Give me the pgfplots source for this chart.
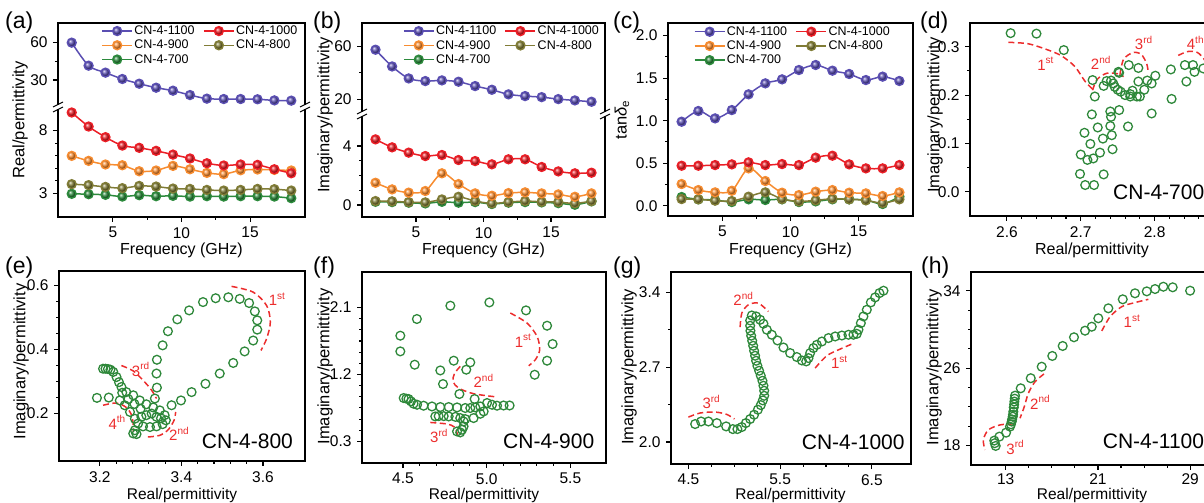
\documentclass[border=0pt]{standalone}
\usepackage{pgfplots}
\pgfplotsset{compat=1.18}
\usepackage{pgfplotstable}
\usepackage{fontspec}
\setmainfont{Liberation Sans}

\definecolor{cP}{RGB}{90,78,178}
\definecolor{cR}{RGB}{235,30,38}
\definecolor{cO}{RGB}{247,140,48}
\definecolor{cK}{RGB}{128,124,54}
\definecolor{cG}{RGB}{44,138,60}
\definecolor{cA}{RGB}{236,45,45}
\definecolor{cC}{RGB}{46,136,58}

\pgfdeclareplotmark{ballP}{\shade[ball color=cP] (0pt,0pt) circle (\pgfplotmarksize);}
\pgfdeclareplotmark{ballR}{\shade[ball color=cR] (0pt,0pt) circle (\pgfplotmarksize);}
\pgfdeclareplotmark{ballO}{\shade[ball color=cO] (0pt,0pt) circle (\pgfplotmarksize);}
\pgfdeclareplotmark{ballK}{\shade[ball color=cK] (0pt,0pt) circle (\pgfplotmarksize);}
\pgfdeclareplotmark{ballG}{\shade[ball color=cG] (0pt,0pt) circle (\pgfplotmarksize);}

\newcommand{\fs}[1]{\fontsize{#1}{#1}\selectfont}
\newcommand{\sups}[1]{\raisebox{0.42em}{\fs{10}#1}}

\tikzset{
  lP/.style={cP, line width=1.5pt, mark=ballP, mark size=4.4pt},
  lR/.style={cR, line width=1.5pt, mark=ballR, mark size=4.4pt},
  lO/.style={cO, line width=1.5pt, mark=ballO, mark size=4.4pt},
  lK/.style={cK, line width=1.5pt, mark=ballK, mark size=4.4pt},
  lG/.style={cG, line width=1.5pt, mark=ballG, mark size=4.4pt},
  arc/.style={cA, line width=1.5pt, dash pattern=on 6pt off 3.5pt},
  lab/.style={cA, font=\fs{15}, inner sep=0pt},
}

\pgfplotsset{
  base/.style={
    scale only axis, anchor=south west, clip=false,
    tick align=outside, tick pos=left,
    major tick length=5pt, minor tick length=3pt,
    every tick/.style={black, line width=1.1pt},
    axis line style={line width=1.3pt},
    tick label style={font=\fs{15.5}},
    xticklabel style={inner sep=2pt, yshift=-3pt},
    yticklabel style={inner sep=2pt, xshift=-3.3pt},
    /pgf/number format/assume math mode=true,
    scaled ticks=false,
    minor x tick num=1, minor y tick num=1,
  },
  zf/.style={#1 tick label style={/pgf/number format/.cd, fixed, fixed zerofill, precision=1}},
  leg/.style={
    legend image code/.code={\draw[mark repeat=2,mark phase=2,##1] plot coordinates {(0pt,0pt) (15pt,0pt) (30pt,0pt)};},
    legend cell align=left,
    legend columns=2,
    legend style={draw=none, fill=none, anchor=north west, font=\fs{12.5},
      inner sep=0pt, row sep=1pt, nodes={inner sep=1.5pt},
      /tikz/every even column/.append style={column sep=7pt}},
  },
  circ/.style={only marks, mark=o, mark size=4.4pt, color=cC, mark options={line width=1.3pt}},
}

\newcommand{\frameLower}{\draw[line width=1.3pt, line cap=rect] (rel axis cs:0,1) -- (rel axis cs:0,0) -- (rel axis cs:1,0) -- (rel axis cs:1,1);}
\newcommand{\frameUpper}{\draw[line width=1.3pt, line cap=rect] (rel axis cs:0,0) -- (rel axis cs:0,1) -- (rel axis cs:1,1) -- (rel axis cs:1,0);}
\newcommand{\brk}[1]{%
  \fill[white] ([shift={(-6pt,-2pt)}]rel axis cs:#1,0) rectangle ([shift={(6pt,2pt)}]rel axis cs:#1,0);
  \draw[line width=1pt] ([shift={(-5pt,-5pt)}]rel axis cs:#1,0) -- ([shift={(5pt,0pt)}]rel axis cs:#1,0);
  \draw[line width=1pt] ([shift={(-5pt,0pt)}]rel axis cs:#1,0) -- ([shift={(5pt,5pt)}]rel axis cs:#1,0);}

\pgfplotstableread{
f p r o k g
2.00 60.0 9.44 5.98 3.72 2.95
3.23 41.5 8.32 5.58 3.64 2.92
4.46 35.9 7.47 5.29 3.50 2.87
5.69 30.8 6.80 5.23 3.40 2.73
6.92 27.0 6.62 4.75 3.58 2.84
8.15 23.8 6.38 4.81 3.53 2.76
9.38 21.4 6.08 5.18 3.37 2.79
10.62 17.9 5.77 4.91 3.34 2.73
11.85 15.0 5.39 4.62 3.26 2.76
13.08 14.7 5.21 4.52 3.21 2.73
14.31 14.7 5.29 4.83 3.26 2.76
15.54 14.5 5.26 4.89 3.34 2.76
16.77 13.6 4.91 4.86 3.32 2.73
18.00 13.4 4.59 4.81 3.21 2.60
}\tabA

\pgfplotstableread{
f p r o k g
2.00 57.5 4.45 1.51 0.27 0.22
3.23 44.8 3.91 1.06 0.25 0.20
4.46 35.7 3.55 0.84 0.20 0.16
5.69 33.7 3.32 0.95 0.18 0.11
6.92 34.2 3.39 2.15 0.38 0.22
8.15 33.2 3.05 1.42 0.56 0.16
9.38 29.9 2.98 0.79 0.27 0.20
10.62 27.1 2.76 0.63 0.11 0.07
11.85 23.6 3.10 0.81 0.20 0.16
13.08 22.3 3.10 0.86 0.27 0.20
14.31 21.5 2.58 0.79 0.22 0.18
15.54 20.0 2.28 0.72 0.20 0.13
16.77 19.0 2.15 0.56 0.11 0.02
18.00 18.0 2.19 0.79 0.27 0.25
}\tabB

\pgfplotstableread{
f p r o k g
2.00 0.988 0.470 0.255 0.078 0.102
3.23 1.114 0.470 0.184 0.075 0.075
4.46 1.027 0.478 0.157 0.059 0.067
5.69 1.125 0.486 0.176 0.055 0.043
6.92 1.310 0.510 0.439 0.106 0.075
8.15 1.439 0.478 0.290 0.157 0.067
9.38 1.486 0.490 0.153 0.078 0.075
10.62 1.596 0.478 0.125 0.051 0.043
11.85 1.655 0.565 0.165 0.063 0.051
13.08 1.588 0.588 0.184 0.082 0.075
14.31 1.549 0.486 0.153 0.075 0.075
15.54 1.478 0.439 0.145 0.063 0.067
16.77 1.518 0.439 0.114 0.031 0.020
18.00 1.467 0.478 0.157 0.075 0.106
}\tabC

\begin{document}
\begin{tikzpicture}
\useasboundingbox (0pt,0pt) rectangle (1204pt,503pt);

% ---------------- (a) lower
\begin{axis}[base, at={(58pt,286pt)}, width=247pt, height=110pt,
  xmin=1, xmax=19, ymin=1.1, ymax=9.88, xtick={5,10,15}, ytick={3,8},
  minor y tick num=4, axis line style={draw=none}]
\addplot[lG, smooth, forget plot] table[x=f,y=g]{\tabA};
\addplot[lK, smooth, forget plot] table[x=f,y=k]{\tabA};
\addplot[lO, smooth, forget plot] table[x=f,y=o]{\tabA};
\addplot[lR, smooth, forget plot] table[x=f,y=r]{\tabA};
\frameLower
\end{axis}
% ---------------- (a) upper
\begin{axis}[base, at={(58pt,396pt)}, width=247pt, height=84pt,
  xmin=1, xmax=19, ymin=8.3, ymax=75.8, xtick=\empty, ytick={30,60},
  axis line style={draw=none}, leg, legend style={at={(rel axis cs:0.175,0.985)}}]
\addlegendimage{lP}\addlegendentry{CN-4-1100}
\addlegendimage{lR}\addlegendentry{CN-4-1000}
\addlegendimage{lO}\addlegendentry{CN-4-900}
\addlegendimage{lK}\addlegendentry{CN-4-800}
\addlegendimage{lG}\addlegendentry{CN-4-700}
\addplot[lP, smooth, forget plot] table[x=f,y=p]{\tabA};
\frameUpper
\brk{0}\brk{1}
\end{axis}

% ---------------- (b) lower
\begin{axis}[base, at={(362pt,286pt)}, width=243pt, height=103pt,
  xmin=1, xmax=19, ymin=-0.81, ymax=6.17, xtick={5,10,15}, ytick={0,4},
  minor y tick num=3, axis line style={draw=none}]
\addplot[lG, smooth, forget plot] table[x=f,y=g]{\tabB};
\addplot[lK, smooth, forget plot] table[x=f,y=k]{\tabB};
\addplot[lO, smooth, forget plot] table[x=f,y=o]{\tabB};
\addplot[lR, smooth, forget plot] table[x=f,y=r]{\tabB};
\frameLower
\end{axis}
% ---------------- (b) upper
\begin{axis}[base, at={(362pt,389pt)}, width=243pt, height=91pt,
  xmin=1, xmax=19, ymin=8.7, ymax=77.8, xtick=\empty, ytick={20,60},
  axis line style={draw=none}, leg, legend style={at={(rel axis cs:0.168,0.985)}}]
\addlegendimage{lP}\addlegendentry{CN-4-1100}
\addlegendimage{lR}\addlegendentry{CN-4-1000}
\addlegendimage{lO}\addlegendentry{CN-4-900}
\addlegendimage{lK}\addlegendentry{CN-4-800}
\addlegendimage{lG}\addlegendentry{CN-4-700}
\addplot[lP, smooth, forget plot] table[x=f,y=p]{\tabB};
\frameUpper
\brk{0}\brk{1}
\end{axis}

% ---------------- (c)
\begin{axis}[base, at={(668pt,287pt)}, width=245pt, height=193pt,
  xmin=1, xmax=19, ymin=-0.121, ymax=2.149, xtick={5,10,15},
  ytick={0,0.5,1,1.5,2}, zf=y,
  leg, legend style={at={(rel axis cs:0.105,0.99)}}]
\addlegendimage{lP}\addlegendentry{CN-4-1100}
\addlegendimage{lR}\addlegendentry{CN-4-1000}
\addlegendimage{lO}\addlegendentry{CN-4-900}
\addlegendimage{lK}\addlegendentry{CN-4-800}
\addlegendimage{lG}\addlegendentry{CN-4-700}
\addplot[lG, smooth, forget plot] table[x=f,y=g]{\tabC};
\addplot[lK, smooth, forget plot] table[x=f,y=k]{\tabC};
\addplot[lO, smooth, forget plot] table[x=f,y=o]{\tabC};
\addplot[lR, smooth, forget plot] table[x=f,y=r]{\tabC};
\addplot[lP, smooth, forget plot] table[x=f,y=p]{\tabC};
\end{axis}

% ---------------- (d)
\begin{axis}[base, at={(970pt,287pt)}, width=254pt, height=193pt,
  xmin=2.55, xmax=2.894, ymin=-0.050, ymax=0.349,
  xtick={2.6,2.7,2.8,2.9}, ytick={0,0.1,0.2,0.3}, zf=y, minor x tick num=4]
\addplot[circ] table {
2.605 0.328
2.640 0.327
2.677 0.293
2.716 0.231
2.719 0.197
2.731 0.219
2.735 0.229
2.741 0.230
2.744 0.224
2.746 0.217
2.750 0.211
2.754 0.207
2.760 0.200
2.752 0.246
2.767 0.197
2.767 0.202
2.770 0.209
2.776 0.197
2.780 0.197
2.786 0.211
2.796 0.224
2.790 0.230
2.778 0.228
2.801 0.240
2.778 0.256
2.765 0.262
2.751 0.248
2.715 0.160
2.740 0.166
2.752 0.169
2.741 0.155
2.723 0.133
2.740 0.136
2.705 0.122
2.730 0.110
2.742 0.117
2.713 0.099
2.726 0.081
2.700 0.077
2.709 0.066
2.717 0.069
2.743 0.088
2.699 0.037
2.731 0.036
2.706 0.014
2.718 0.014
2.764 0.135
2.796 0.162
2.823 0.192
2.822 0.253
2.841 0.262
2.852 0.262
2.843 0.228
2.854 0.248
2.866 0.255
};
\addplot[arc, smooth] coordinates {(2.602,0.309) (2.629,0.306) (2.656,0.293) (2.674,0.281) (2.692,0.259) (2.706,0.228) (2.717,0.211)};
\addplot[arc, smooth] coordinates {(2.716,0.210) (2.722,0.232) (2.735,0.245) (2.750,0.244) (2.758,0.238)};
\addplot[arc, smooth] coordinates {(2.753,0.242) (2.758,0.274) (2.771,0.288) (2.782,0.284) (2.789,0.266) (2.791,0.252)};
\addplot[arc, smooth] coordinates {(2.832,0.282) (2.845,0.290) (2.858,0.288) (2.868,0.272) (2.872,0.252) (2.868,0.235)};
\node[lab] at (axis cs:2.652,0.265) {1\sups{st}};
\node[lab] at (axis cs:2.727,0.267) {2\sups{nd}};
\node[lab] at (axis cs:2.785,0.308) {3\sups{rd}};
\node[lab] at (axis cs:2.855,0.308) {4\sups{th}};
\end{axis}

% ---------------- (e)
\begin{axis}[base, at={(59pt,42pt)}, width=246pt, height=190pt,
  xmin=3.1, xmax=3.703, ymin=0.052, ymax=0.645,
  xtick={3.2,3.4,3.6}, ytick={0.2,0.4,0.6}, zf=x, zf=y, minor x tick num=4, minor y tick num=3]
\addplot[circ] table {
3.376 0.226
3.399 0.241
3.425 0.267
3.459 0.293
3.494 0.325
3.527 0.358
3.555 0.394
3.576 0.428
3.586 0.462
3.586 0.491
3.580 0.519
3.566 0.545
3.543 0.558
3.515 0.563
3.484 0.560
3.453 0.548
3.419 0.522
3.390 0.494
3.367 0.457
3.354 0.413
3.340 0.368
3.339 0.325
3.340 0.281
3.335 0.247
3.208 0.340
3.214 0.340
3.220 0.339
3.226 0.337
3.233 0.330
3.241 0.314
3.247 0.298
3.253 0.283
3.193 0.249
3.222 0.250
3.249 0.241
3.265 0.267
3.282 0.257
3.298 0.241
3.314 0.229
3.331 0.219
3.347 0.210
3.359 0.195
3.362 0.179
3.354 0.167
3.339 0.160
3.323 0.158
3.306 0.160
3.294 0.169
3.286 0.184
3.274 0.205
3.261 0.226
3.286 0.148
3.282 0.138
3.290 0.136
3.302 0.190
3.314 0.195
3.327 0.200
3.339 0.190
3.350 0.185
3.300 0.215
3.285 0.230
3.270 0.245
3.255 0.265
};
\addplot[arc, smooth] coordinates {(3.523,0.597) (3.576,0.579) (3.609,0.537) (3.618,0.485) (3.609,0.434) (3.595,0.397)};
\addplot[arc, smooth] coordinates {(3.253,0.350) (3.282,0.333) (3.306,0.304) (3.327,0.273) (3.339,0.247)};
\addplot[arc, smooth] coordinates {(3.208,0.226) (3.241,0.233) (3.265,0.219) (3.278,0.195) (3.282,0.164) (3.282,0.143)};
\addplot[arc, smooth] coordinates {(3.318,0.127) (3.347,0.132) (3.368,0.150) (3.382,0.179) (3.386,0.205)};
\node[lab] at (axis cs:3.634,0.556) {1\sups{st}};
\node[lab] at (axis cs:3.300,0.338) {3\sups{rd}};
\node[lab] at (axis cs:3.242,0.173) {4\sups{th}};
\node[lab] at (axis cs:3.394,0.136) {2\sups{nd}};
\end{axis}

% ---------------- (f)
\begin{axis}[base, at={(362pt,40pt)}, width=244pt, height=191pt,
  xmin=4.255, xmax=5.713, ymin=0.01, ymax=2.577,
  xtick={4.5,5,5.5}, ytick={0.3,1.2,2.1}, zf=x, minor x tick num=4, minor y tick num=5]
\addplot[circ] table {
5.287 1.196
5.361 1.385
5.394 1.609
5.361 1.855
5.235 2.061
5.016 2.168
4.783 2.124
4.583 1.945
4.484 1.721
4.484 1.510
4.570 1.331
4.723 1.254
4.803 1.385
4.902 1.362
4.878 1.264
4.739 1.071
4.837 0.937
4.928 0.870
4.504 0.883
4.520 0.875
4.533 0.870
4.548 0.838
4.563 0.807
4.584 0.793
4.623 0.780
4.673 0.770
4.723 0.762
4.773 0.762
4.823 0.757
4.872 0.749
4.902 0.749
4.932 0.757
4.962 0.770
5.002 0.816
5.032 0.793
5.062 0.780
5.101 0.783
5.137 0.783
4.693 0.636
4.713 0.640
4.743 0.640
4.773 0.636
4.813 0.630
4.842 0.614
4.872 0.600
4.922 0.614
4.962 0.672
4.982 0.703
4.862 0.569
4.862 0.502
4.853 0.457
4.823 0.434
4.842 0.421
};
\addplot[arc, smooth] coordinates {(5.141,2.026) (5.241,1.891) (5.301,1.711) (5.317,1.532) (5.291,1.398) (5.251,1.317)};
\addplot[arc, smooth] coordinates {(4.842,1.308) (4.807,1.21) (4.799,1.106) (4.832,1.017) (4.922,0.941) (5.062,0.897)};
\addplot[arc, smooth] coordinates {(4.663,0.555) (4.763,0.534) (4.807,0.493) (4.826,0.390)};
\node[lab] at (axis cs:5.216,1.653) {1\sups{st}};
\node[lab] at (axis cs:4.980,1.116) {2\sups{nd}};
\node[lab] at (axis cs:4.714,0.377) {3\sups{rd}};
\end{axis}

% ---------------- (g)
\begin{axis}[base, at={(671pt,39pt)}, width=240pt, height=192pt,
  xmin=4.31, xmax=6.927, ymin=1.795, ymax=3.588,
  xtick={4.5,5.5,6.5}, ytick={2,2.7,3.4}, zf=y, minor x tick num=3]
\addplot[circ] table {
6.627 3.413
6.583 3.391
6.536 3.351
6.489 3.304
6.445 3.235
6.408 3.173
6.380 3.111
6.354 3.049
6.336 3.011
6.299 3.002
6.245 3.002
6.173 2.995
6.100 2.986
6.027 2.971
5.955 2.939
5.900 2.908
5.863 2.878
5.827 2.831
5.809 2.784
5.784 2.753
5.737 2.762
5.682 2.794
5.609 2.831
5.536 2.883
5.471 2.949
5.409 3.002
5.355 3.049
5.318 3.105
5.282 3.142
5.238 3.173
5.191 3.182
5.173 3.135
5.173 3.086
5.176 3.039
5.184 2.993
5.195 2.946
5.206 2.899
5.216 2.852
5.227 2.806
5.238 2.759
5.252 2.712
5.271 2.666
5.289 2.619
5.307 2.572
5.318 2.526
5.326 2.479
5.326 2.432
5.311 2.389
5.289 2.345
5.257 2.302
5.216 2.255
5.173 2.215
5.126 2.177
5.082 2.140
5.034 2.121
4.984 2.121
4.911 2.146
4.810 2.177
4.718 2.192
4.638 2.192
4.573 2.168
};
\addplot[arc, smooth] coordinates {(5.882,2.691) (6.009,2.806) (6.154,2.868) (6.307,2.924)};
\addplot[arc, smooth] coordinates {(5.064,3.074) (5.082,3.204) (5.154,3.282) (5.263,3.297) (5.372,3.219)};
\addplot[arc, smooth] coordinates {(4.5,2.233) (4.627,2.271) (4.791,2.280) (4.918,2.258) (5.002,2.215)};
\node[lab] at (axis cs:6.143,2.745) {1\sups{st}};
\node[lab] at (axis cs:5.097,3.338) {2\sups{nd}};
\node[lab] at (axis cs:4.748,2.372) {3\sups{rd}};
\end{axis}

% ---------------- (h)
\begin{axis}[base, at={(971pt,38pt)}, width=253pt, height=193pt,
  xmin=9.99, xmax=31.93, ymin=16.0, ymax=35.93,
  xtick={13,21,29}, ytick={18,26,34}, minor x tick num=3, minor y tick num=3,
  xticklabel style={yshift=2pt}]
\addplot[circ] table {
28.99 34.00
27.48 34.35
26.67 34.41
25.95 34.17
25.23 33.93
24.21 33.73
23.15 33.11
21.90 32.18
21.03 31.15
20.46 30.28
19.88 29.87
18.92 29.19
17.94 28.29
17.04 27.26
16.12 26.15
15.17 24.96
14.30 23.92
13.81 23.16
13.78 22.85
13.75 22.55
13.73 22.25
13.70 21.95
13.66 21.51
13.63 21.20
13.61 20.99
13.55 20.70
13.52 20.48
13.45 20.20
13.37 19.96
13.03 19.34
12.45 18.93
12.01 18.52
12.05 18.25
12.13 17.97
};
\addplot[arc, smooth] coordinates {(21.33,29.84) (22.05,31.31) (23.06,32.35) (24.21,32.77) (25.37,33.11)};
\addplot[arc, smooth] coordinates {(16.32,25.40) (15.54,24.6) (14.96,23.4) (14.61,22.02) (14.24,20.83)};
\addplot[arc, smooth] coordinates {(13.66,20.24) (12.51,20.14) (11.49,19.62) (11.06,18.59) (11.20,17.56)};
\node[lab] at (axis cs:23.93,30.87) {1\sups{st}};
\node[lab] at (axis cs:15.97,22.46) {2\sups{nd}};
\node[lab] at (axis cs:13.81,17.81) {3\sups{rd}};
\end{axis}

% ---------------- labels
\begin{scope}[every node/.style={inner sep=0pt}]
\node[font=\fs{16}, anchor=base] at (181.5pt,248.5pt) {Frequency (GHz)};
\node[font=\fs{16}, anchor=base] at (483.5pt,248.5pt) {Frequency (GHz)};
\node[font=\fs{16}, anchor=base] at (790.5pt,248.5pt) {Frequency (GHz)};
\node[font=\fs{16}, anchor=base] at (1092pt,248.5pt) {Real/permittivity};
\node[font=\fs{15.5}, anchor=base] at (182pt,4pt) {Real/permittivity};
\node[font=\fs{15.5}, anchor=base] at (484pt,4pt) {Real/permittivity};
\node[font=\fs{15.5}, anchor=base] at (790.5pt,4pt) {Real/permittivity};
\node[font=\fs{15.5}, anchor=base] at (1092pt,4pt) {Real/permittivity};
\node[font=\fs{16.5}, rotate=90] at (20pt,383pt) {Real/permittivity};
\node[font=\fs{16.5}, rotate=90] at (325pt,388pt) {Imaginary/permittivity};
\node[font=\fs{16.5}, rotate=90] at (622pt,383pt) {tan{\itshape δ}\textsubscript{e}};
\node[font=\fs{16.5}, rotate=90] at (935pt,388pt) {Imaginary/permittivity};
\node[font=\fs{16.5}, rotate=90] at (21pt,141.5pt) {Imaginary/permittivity};
\node[font=\fs{16.5}, rotate=90] at (325pt,136.5pt) {Imaginary/permittivity};
\node[font=\fs{16.5}, rotate=90] at (629pt,136pt) {Imaginary/permittivity};
\node[font=\fs{16.5}, rotate=90] at (934pt,135.5pt) {Imaginary/permittivity};
\node[font=\fs{23}, anchor=base west] at (5pt,474pt) {(a)};
\node[font=\fs{23}, anchor=base west] at (313pt,474pt) {(b)};
\node[font=\fs{23}, anchor=base west] at (613pt,474pt) {(c)};
\node[font=\fs{23}, anchor=base west] at (920pt,474pt) {(d)};
\node[font=\fs{23}, anchor=base west] at (5pt,229.5pt) {(e)};
\node[font=\fs{23}, anchor=base west] at (313pt,229.5pt) {(f)};
\node[font=\fs{23}, anchor=base west] at (613pt,229.5pt) {(g)};
\node[font=\fs{23}, anchor=base west] at (921pt,229.5pt) {(h)};
\node[font=\fs{21}, anchor=base west] at (1113pt,303.7pt) {CN-4-700};
\node[font=\fs{21}, anchor=base west] at (201.7pt,54pt) {CN-4-800};
\node[font=\fs{21}, anchor=base west] at (503pt,54pt) {CN-4-900};
\node[font=\fs{21}, anchor=base west] at (801.7pt,53.7pt) {CN-4-1000};
\node[font=\fs{21}, anchor=base west] at (1102.7pt,54pt) {CN-4-1100};
\end{scope}
\end{tikzpicture}
\end{document}
